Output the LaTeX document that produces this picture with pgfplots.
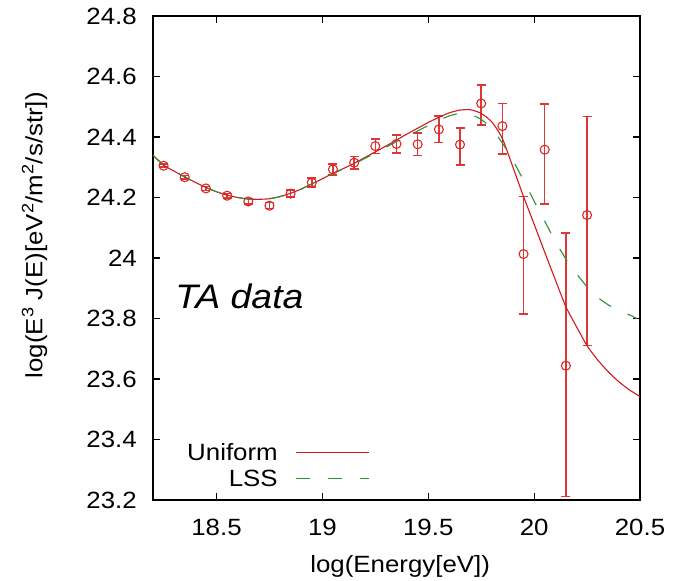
\documentclass[border=0pt]{standalone}
\usepackage{fontspec}
\setmainfont{Liberation Sans}[FakeStretch=1.1]
\usepackage{pgfplots}
\pgfplotsset{compat=1.18}
\definecolor{ured}{RGB}{210,25,30}
\definecolor{pred}{RGB}{220,40,40}
\definecolor{ebred}{RGB}{222,55,55}
\definecolor{lssgreen}{RGB}{45,145,55}
\newcommand{\lbl}{\fontsize{23.5}{26}\selectfont}

\begin{document}
\begin{tikzpicture}
\path[use as bounding box] (-153pt,-81pt) rectangle (530pt,500pt);
\begin{axis}[
  at={(0pt,0pt)}, anchor=south west,
  scale only axis, width=487pt, height=484pt,
  xmin=18.2, xmax=20.5, ymin=23.2, ymax=24.8,
  xtick={18.5,19,19.5,20,20.5},
  xticklabels={18.5,19,19.5,20,20.5},
  ytick={23.2,23.4,23.6,23.8,24,24.2,24.4,24.6,24.8},
  yticklabels={23.2,23.4,23.6,23.8,24,24.2,24.4,24.6,24.8},
  tick label style={font=\lbl, inner sep=0pt},
  xticklabel shift=19pt, yticklabel shift=16pt,
  tick align=inside, major tick length=7pt,
  every tick/.style={black, line width=1.2pt},
  axis line style={line width=1.6pt},
  xlabel={log(Energy[eV])},
  ylabel={log(E\textsuperscript{3} J(E)[eV\textsuperscript{2}/m\textsuperscript{2}/s/str])},
  every axis x label/.style={at={(axis description cs:0.5075,-0.138)}, anchor=center, font=\lbl},
  every axis y label/.style={at={(axis description cs:-0.243,0.547)}, anchor=center, rotate=90, font=\lbl},
  legend plot pos=right,
  legend cell align=right,
  legend image code/.code={\draw[#1] (0pt,0pt) -- (73pt,0pt);},
  legend style={draw=none, fill=none, inner sep=0pt, outer sep=0pt,
    font=\lbl, column sep=17pt, row sep=6pt,
    nodes={inner sep=1pt},
    at={(axis cs:19.224,23.314)}, anchor=east},
]
% TA data points with (asymmetric) statistical errors
\addplot[only marks, mark=o, mark size=4.5pt, draw=pred, color=pred, mark options={line width=1.1pt, draw=pred}, forget plot,
  error bars/.cd, y dir=both, y explicit,
  error bar style={draw=ebred, line width=1.5pt},
  error mark options={rotate=90, mark size=4.5pt, draw=ebred, line width=1.5pt}]
coordinates {
(18.25,24.305) += (0,0.005) -= (0,0.005)
(18.35,24.267) += (0,0.006) -= (0,0.006)
(18.45,24.230) += (0,0.007) -= (0,0.007)
(18.55,24.206) += (0,0.008) -= (0,0.008)
(18.65,24.187) += (0,0.009) -= (0,0.009)
(18.75,24.173) += (0,0.010) -= (0,0.010)
(18.85,24.213) += (0,0.012) -= (0,0.012)
(18.95,24.249) += (0,0.015) -= (0,0.015)
(19.05,24.293) += (0,0.018) -= (0,0.018)
(19.15,24.315) += (0,0.021) -= (0,0.021)
(19.25,24.370) += (0,0.024) -= (0,0.024)
(19.35,24.377) += (0,0.030) -= (0,0.030)
(19.45,24.376) += (0,0.037) -= (0,0.037)
(19.55,24.425) += (0,0.044) -= (0,0.044)
(19.65,24.375) += (0,0.054) -= (0,0.068)
(19.75,24.511) += (0,0.061) -= (0,0.071)
(19.85,24.436) += (0,0.075) -= (0,0.093)
(19.95,24.013) += (0,0.190) -= (0,0.198)
(20.05,24.358) += (0,0.151) -= (0,0.179)
(20.15,23.644) += (0,0.438) -= (0,0.433)
(20.25,24.142) += (0,0.325) -= (0,0.432)
};
% Uniform model
\addplot[ured, line width=1.1pt, smooth, tension=0.4] coordinates {
(18.20,24.340) (18.25,24.307) (18.30,24.287) (18.35,24.268) (18.40,24.250)
(18.45,24.233) (18.50,24.219) (18.55,24.208) (18.60,24.200) (18.65,24.195)
(18.70,24.194) (18.75,24.196) (18.80,24.203) (18.85,24.214) (18.90,24.228)
(18.95,24.245) (19.00,24.262) (19.05,24.280) (19.10,24.296) (19.15,24.313)
(19.20,24.332) (19.25,24.351) (19.30,24.370) (19.35,24.390) (19.40,24.410)
(19.45,24.429) (19.50,24.448) (19.55,24.465) (19.60,24.480) (19.65,24.489)
(19.70,24.490) (19.75,24.478) (19.80,24.450) (19.85,24.395) (19.90,24.300)
(19.95,24.203) (20.00,24.112) (20.05,24.019) (20.10,23.928) (20.15,23.839)
(20.20,23.773) (20.25,23.710) (20.30,23.663) (20.35,23.624) (20.40,23.591)
(20.45,23.564) (20.50,23.542)
};
\addlegendentry{Uniform}
% LSS model
\addplot[lssgreen, line width=1.1pt, dash pattern=on 14pt off 18pt, smooth, tension=0.4] coordinates {
(18.20,24.340) (18.25,24.307) (18.30,24.287) (18.35,24.268) (18.40,24.250)
(18.45,24.233) (18.50,24.219) (18.55,24.208) (18.60,24.200) (18.65,24.195)
(18.70,24.194) (18.75,24.196) (18.80,24.203) (18.85,24.214) (18.90,24.228)
(18.95,24.245) (19.00,24.262) (19.05,24.279) (19.10,24.295) (19.15,24.311)
(19.20,24.329) (19.25,24.347) (19.30,24.366) (19.35,24.385) (19.40,24.403)
(19.45,24.420) (19.50,24.438) (19.55,24.455) (19.60,24.470) (19.65,24.478)
(19.70,24.474) (19.75,24.458) (19.80,24.428) (19.85,24.380) (19.90,24.322)
(19.95,24.257) (20.00,24.188) (20.05,24.122) (20.10,24.055) (20.15,23.997)
(20.20,23.948) (20.25,23.905) (20.30,23.870) (20.35,23.845) (20.40,23.827)
(20.45,23.812) (20.485,23.800)
};
\addlegendentry{LSS}
\node at (axis cs:18.608,23.874) {\fontsize{34}{34}\selectfont\itshape TA data};
\end{axis}
\end{tikzpicture}
\end{document}
